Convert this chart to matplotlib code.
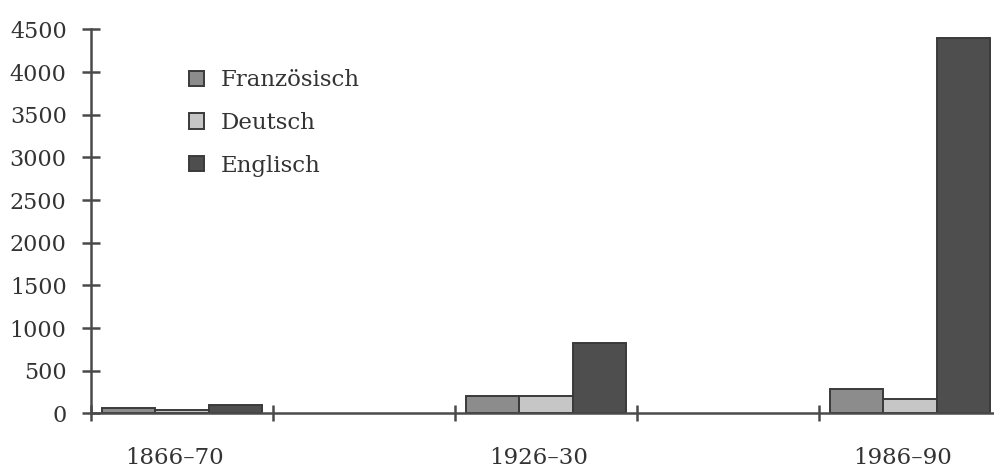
import numpy as np
import matplotlib.pyplot as plt

# data (number of items per period)
periods = ['1866–70', '1926–30', '1986–90']
slots = [0, 2, 4]          # empty slot between each period
languages = ['Französisch', 'Deutsch', 'Englisch']
franz = [60, 210, 290]
deutsch = [40, 210, 175]
englisch = [100, 830, 4400]

colors = ['#8c8c8c', '#c6c6c6', '#4e4e4e']
edge = '#3a3a3a'
axcol = '#4a4a4a'

plt.rcParams['font.family'] = ['DejaVu Serif']

fig = plt.figure(figsize=(9.94, 4.68), dpi=100)
ax = fig.add_axes([0.0915, 0.1165, 0.9155, 0.8205])

w = 0.293
centers = np.array(slots) + 0.5
for k, (vals, lab) in enumerate(zip([franz, deutsch, englisch], languages)):
    ax.bar(centers + (k - 1) * w, vals, width=w, color=colors[k],
           edgecolor=edge, linewidth=1.4, label=lab, zorder=2)

ax.set_xlim(0, 5)
ax.set_ylim(0, 4500)
ax.set_yticks(np.arange(0, 4501, 500))

# boundary ticks crossing the axis, labels between them
ax.set_xticks(np.arange(0, 6))
ax.set_xticklabels([])
ax.set_xticks(centers - 0.04, minor=True)
ax.set_xticklabels(periods, minor=True)
ax.tick_params(axis='x', which='major', direction='inout', length=12,
               width=1.8, color=axcol)
ax.tick_params(axis='x', which='minor', length=0, pad=24, labelsize=16.5,
               labelcolor='#333333')
ax.tick_params(axis='y', direction='inout', length=13, width=1.8,
               color=axcol, pad=11, labelsize=16, labelcolor='#333333')

for s in ['top', 'right']:
    ax.spines[s].set_visible(False)
for s in ['left', 'bottom']:
    ax.spines[s].set_color(axcol)
    ax.spines[s].set_linewidth(1.8)
ax.spines['bottom'].set_zorder(3)

ax.legend(loc='upper left', bbox_to_anchor=(0.085, 0.95), frameon=False,
          fontsize=16.5, handlelength=0.65, handleheight=0.65,
          handletextpad=0.75, labelspacing=0.9, labelcolor='#333333')

fig.savefig('out.png', dpi=100)
